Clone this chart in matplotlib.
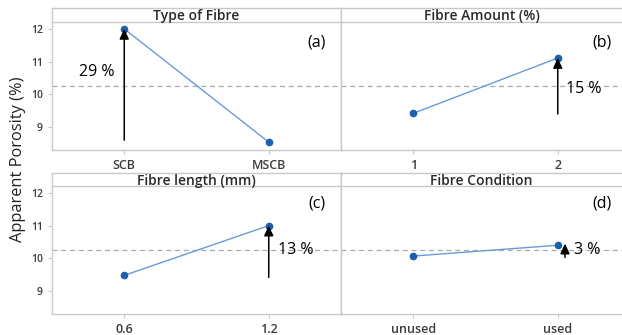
import numpy as np
import matplotlib.pyplot as plt

plt.rcParams['font.family'] = ['Open Sans', 'DejaVu Sans']

titles = ['Type of Fibre', 'Fibre Amount (%)', 'Fibre length (mm)', 'Fibre Condition']
levels = [['SCB', 'MSCB'], ['1', '2'], ['0.6', '1.2'], ['unused', 'used']]
means = [[12.0, 8.54], [9.42, 11.11], [9.48, 11.0], [10.07, 10.40]]
grand_mean = 10.25
panel_tags = ['(a)', '(b)', '(c)', '(d)']
pct_labels = ['29 %', '15 %', '13 %', '3 %']
arrow_from = [8.6, 9.4, 9.42, 10.03]
arrow_to = [12.0, 11.11, 11.0, 10.45]
arrow_x = [0, 1, 1, 1.05]
pct_pos = [(-0.31, 10.67), (1.06, 10.15), (1.065, 10.24), (1.11, 10.24)]

W, H = 622, 335
fig = plt.figure(figsize=(W / 100, H / 100), dpi=100)
grey = '#c9c9c9'
tick_col = '#3c3c3c'

cols = [(52, 341), (341, 630)]
rows = [(8, 22, 150), (173, 186, 314)]
tag_y = [0.84, 0.867]

for i in range(4):
    r, c = divmod(i, 2)
    x0, x1 = cols[c]
    st, sb, pb = rows[r]
    ax = fig.add_axes([x0 / W, 1 - pb / H, (x1 - x0) / W, (pb - sb) / H])
    sax = fig.add_axes([x0 / W, 1 - sb / H, (x1 - x0) / W, (sb - st) / H])

    # strip
    sax.set_xticks([])
    sax.set_yticks([])
    for s in sax.spines.values():
        s.set_color(grey)
        s.set_linewidth(1.0)
    sax.text(0.5 if c == 0 else 0.486, 0.4, titles[i], ha='center', va='center',
             fontsize=10, fontweight='semibold', color='#2a2a2a', transform=sax.transAxes)

    # panel
    x = np.arange(2)
    ax.axhline(grand_mean, color='#aaaaaa', ls=(0, (4, 3)), lw=0.9, zorder=1)
    ax.plot(x, means[i], color='#6a9ad8', lw=1.0, zorder=2)
    ax.plot(x, means[i], 'o', color='#1d5fae', ms=4.5, zorder=3)
    ax.set_xlim(-0.5, 1.5)
    ax.set_ylim(8.3, 12.21)
    ax.set_xticks(x)
    ax.set_xticklabels(levels[i])
    ax.set_yticks([9, 10, 11, 12])
    ax.spines['top'].set_visible(False)
    if c == 1:
        ax.tick_params(axis='y', left=False, labelleft=False)
    for s in ax.spines.values():
        s.set_color(grey)
        s.set_linewidth(1.0)
    ax.tick_params(colors=grey, labelcolor=tick_col, length=3, width=0.8)
    ax.tick_params(axis='x', labelsize=9)
    ax.tick_params(axis='y', labelsize=7.5)
    for lab in ax.get_xticklabels() + ax.get_yticklabels():
        lab.set_fontweight('semibold')

    ax.annotate('', xy=(arrow_x[i], arrow_to[i]), xytext=(arrow_x[i], arrow_from[i]),
                arrowprops=dict(arrowstyle='-|>,head_width=0.28,head_length=0.6',
                                color='black', lw=1.1, shrinkA=0, shrinkB=0), zorder=4)
    ax.text(pct_pos[i][0], pct_pos[i][1], pct_labels[i], fontsize=11.5, color='black',
            ha='left', va='center', zorder=5)
    tx = 0.948 if c == 0 else 0.938
    ax.text(tx, tag_y[r], panel_tags[i], fontsize=11.5, color='black', ha='right',
            va='center', transform=ax.transAxes)

fig.text(18 / W, 1 - 159 / H, 'Apparent Porosity (%)', rotation=90, ha='center',
         va='center', fontsize=11.8, color='#222222')

fig.savefig('out.png', dpi=100)
